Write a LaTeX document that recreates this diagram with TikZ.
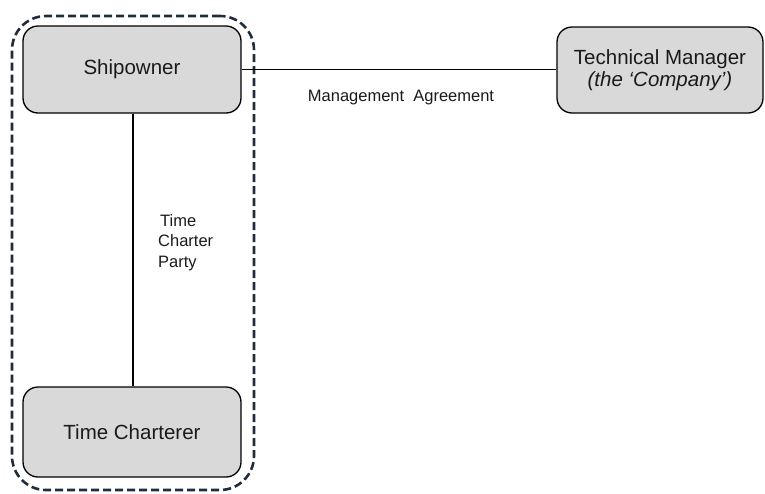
\documentclass[tikz,border=0pt]{standalone}
\usepackage{fontspec}
\setmainfont{Liberation Sans}
\definecolor{boxgray}{HTML}{D9D9D9}
\definecolor{navy}{HTML}{1F2D3D}
\definecolor{txt}{HTML}{1A1A1A}
\tikzset{
  partybox/.style={draw=black, line width=1.3pt, fill=boxgray, rounded corners=15pt,
    inner sep=0pt, text=txt, align=center, font=\fontsize{20.5}{22}\selectfont},
  grpbox/.style={draw=navy, line width=2.6pt, dash pattern=on 8pt off 4pt, rounded corners=34pt, inner sep=0pt},
  link/.style={draw=black, line width=1.1pt},
  lbl/.style={text=txt, inner sep=0pt, font=\fontsize{16.5}{20.5}\selectfont}
}
\begin{document}
\begin{tikzpicture}[x=1pt,y=-1pt]
\useasboundingbox (0,0) rectangle (765,493);
\node[grpbox, minimum width=242pt, minimum height=474pt] (grp) at (133,253) {};
\node[partybox, minimum width=218pt, minimum height=87pt] (ship) at (132,69.5) {Shipowner};
\node[partybox, minimum width=218pt, minimum height=90pt] (tc) at (132,432) {Time Charterer};
\node[partybox, minimum width=206pt, minimum height=86pt] (tm) at (660,70) {Technical Manager\\\textit{(the ‘Company’)}};
\draw[link] (ship.east) -- (tm.west |- ship.east);
\draw[link] (ship.south -| 133,0) -- (tc.north -| 133,0);
\node[lbl] (ma) at (401,98) {Management~ Agreement};
\node[lbl, align=left, anchor=north west] (tcp) at (158,214) {\hspace{2pt}Time\\Charter\\Party};
\end{tikzpicture}
\end{document}
